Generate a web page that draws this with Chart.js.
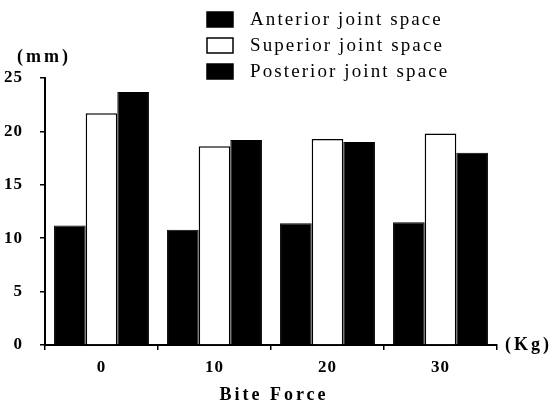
<!DOCTYPE html>
<html>
<head>
<meta charset="utf-8">
<script src="https://cdn.jsdelivr.net/npm/chart.js@4/dist/chart.umd.min.js"></script>
<style>
  body { margin: 0; background: #fff; }
</style>
</head>
<body>
<canvas id="myChart" width="552" height="408"></canvas>
<script>
// bite force groups (Kg)
const forces = ["0", "10", "20", "30"];
// joint space in mm
const anterior = [11.2, 10.8, 11.4, 11.5];
const superior = [21.7, 18.6, 19.3, 19.8];
const posterior = [23.7, 19.2, 19.0, 18.0];
const seriesNames = ["Anterior joint space", "Superior joint space", "Posterior joint space"];
const xTitle = "Bite Force";

const serif = "'Liberation Serif', 'DejaVu Serif', serif";

// draws the stacked legend box at top, the axis title and the unit labels
const extras = {
  id: "extras",
  beforeDraw(chart) {
    chart.ctx.letterSpacing = "1px";
  },
  afterDraw(chart) {
    const ctx = chart.ctx;
    const area = chart.chartArea;
    const xs = chart.scales.x;
    ctx.save();
    ctx.letterSpacing = "2.1px";
    ctx.font = "19px " + serif;
    ctx.textBaseline = "middle";
    ctx.textAlign = "left";
    chart.data.datasets.forEach((ds, i) => {
      const y = 12 + i * 26;
      ctx.fillStyle = ds.backgroundColor;
      ctx.fillRect(207, y, 26, 15);
      ctx.strokeStyle = "#000";
      ctx.lineWidth = 1.5;
      ctx.strokeRect(207, y, 26, 15);
      ctx.fillStyle = "#000";
      ctx.fillText(ds.label, 250, y + 8);
    });
    ctx.font = "bold 18px " + serif;
    ctx.letterSpacing = "3px";
    ctx.fillText("(mm)", 17, 57);
    ctx.fillText("(Kg)", area.right + 8, area.bottom);
    ctx.textAlign = "center";
    ctx.fillText(xTitle, (xs.left + xs.right) / 2 + 3, 395);
    ctx.restore();
  }
};

new Chart(document.getElementById("myChart"), {
  type: "bar",
  data: {
    labels: forces,
    datasets: [
      { label: seriesNames[0], data: anterior, backgroundColor: "#000", borderColor: "#000", borderWidth: 1 },
      { label: seriesNames[1], data: superior, backgroundColor: "#fff", borderColor: "#000", borderWidth: 1.5 },
      { label: seriesNames[2], data: posterior, backgroundColor: "#000", borderColor: "#000", borderWidth: 1 }
    ]
  },
  options: {
    responsive: false,
    animation: false,
    layout: { padding: { top: 78, right: 55, left: 0, bottom: 0 } },
    plugins: {
      legend: { display: false },
      tooltip: { enabled: false }
    },
    datasets: {
      bar: { barPercentage: 1, categoryPercentage: 0.84 }
    },
    scales: {
      x: {
        afterFit: (scale) => { scale.height = 63; },
        grid: { drawOnChartArea: false, color: "#000", tickLength: 5, lineWidth: 1.5 },
        border: { color: "#000", width: 2 },
        ticks: { color: "#000", font: { family: serif, size: 17, weight: "bold" }, padding: 7 }
      },
      y: {
        min: 0,
        max: 25,
        afterFit: (scale) => { scale.width = 45; },
        grid: { drawOnChartArea: false, color: "#000", tickLength: 5, lineWidth: 1.5 },
        border: { color: "#000", width: 2 },
        ticks: { stepSize: 5, color: "#000", font: { family: serif, size: 17, weight: "bold" }, padding: 17 }
      }
    }
  },
  plugins: [extras]
});
</script>
</body>
</html>
